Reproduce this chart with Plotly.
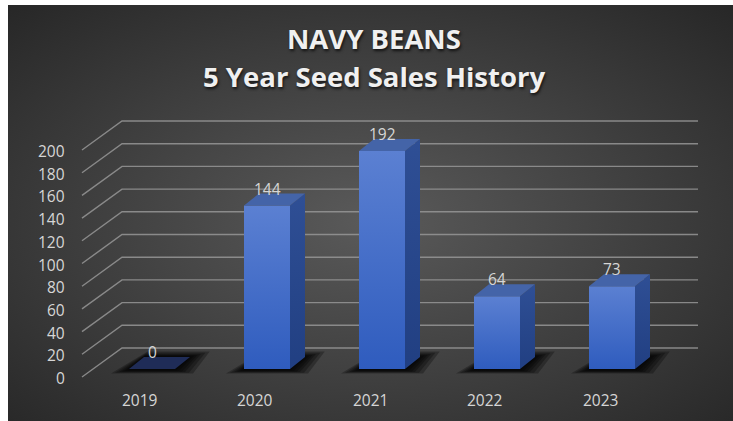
import base64
import plotly.graph_objects as go

# ---------------- data ----------------
years = ["2019", "2020", "2021", "2022", "2023"]
sales = [0, 144, 192, 64, 73]
y_ticks = [0, 20, 40, 60, 80, 100, 120, 140, 160, 180, 200]
title_line1 = "NAVY BEANS"
title_line2 = "5 Year Seed Sales History"

# ---------------- geometry (pixel -> data conversions) ----------------
W, H = 733, 421
PX_X = 115.0          # pixels per category
PX_Y = 1.135          # pixels per unit of value
X0_PX = 152.0         # pixel x of first category centre
Y0_PX = 369.0         # pixel y of bar base

def ux(px):  # pixel width -> x units
    return px / PX_X

def uy(px):  # pixel height -> y units
    return px / PX_Y

x_range = [(0 - X0_PX) / PX_X, (W - X0_PX) / PX_X]
y_range = [(Y0_PX - H) / PX_Y, (Y0_PX - 0) / PX_Y]

half_w = ux(23)
dep_x, dep_y = ux(15), uy(12)
back_dx_left, back_dx_right = ux(122 - X0_PX), ux(698 - X0_PX)
back_dy = uy(Y0_PX - 348)
front_dx = ux(82 - X0_PX)
front_dy = -uy(377 - Y0_PX)

FONT = "Open Sans"
TXT = "#d6d6d6"

fig = go.Figure()

# ---------------- wall grid lines ----------------
for v in y_ticks:
    fig.add_trace(go.Scatter(
        x=[front_dx, back_dx_left, back_dx_right],
        y=[v + front_dy, v + back_dy, v + back_dy],
        mode="lines", line=dict(color="rgba(150,150,150,0.85)", width=1.4),
        hoverinfo="skip", showlegend=False))

# ---------------- shadows ----------------
for i, v in enumerate(sales):
    L, R = i - half_w, i + half_w
    for e in [18, 14, 10, 7, 4, 1]:
        ex = ux(e)
        fig.add_trace(go.Scatter(
            x=[L - ex, R + ex, R + dep_x + ex * 1.1, L + dep_x + ex * 0.2, L - ex],
            y=[-uy(1 + e * 0.2), -uy(1 + e * 0.2), dep_y + uy(e * 0.3),
               dep_y + uy(e * 0.3), -uy(1 + e * 0.2)],
            mode="lines", line=dict(width=0), fill="toself",
            fillcolor="rgba(0,0,0,0.28)", hoverinfo="skip", showlegend=False))

# ---------------- 3D bars ----------------
for i, v in enumerate(sales):
    L, R = i - half_w, i + half_w
    if v > 0:
        # front face
        fig.add_trace(go.Scatter(
            x=[L, R, R, L, L], y=[0, 0, v, v, 0],
            mode="lines", line=dict(width=0), fill="toself",
            fillgradient=dict(type="vertical",
                              colorscale=[[0, "#2f5cbe"], [1, "#5b80d2"]]),
            hoverinfo="skip", showlegend=False))
        # side face
        fig.add_trace(go.Scatter(
            x=[R, R + dep_x, R + dep_x, R, R], y=[0, dep_y, v + dep_y, v, 0],
            mode="lines", line=dict(width=0), fill="toself",
            fillgradient=dict(type="vertical",
                              colorscale=[[0, "#213f82"], [1, "#2f4f95"]]),
            hoverinfo="skip", showlegend=False))
        top_col = "#4464a8"
    else:
        top_col = "#1f2c57"
    # top face
    fig.add_trace(go.Scatter(
        x=[L, R, R + dep_x, L + dep_x, L], y=[v, v, v + dep_y, v + dep_y, v],
        mode="lines", line=dict(width=0), fill="toself", fillcolor=top_col,
        hoverinfo="skip", showlegend=False))

# ---------------- text ----------------
ann = []
for i, v in enumerate(sales):
    ann.append(dict(x=i, y=v + dep_y + uy(5), text=str(v), showarrow=False,
                    xanchor="center", yanchor="middle",
                    font=dict(family=FONT, size=15.5, color=TXT)))
    ann.append(dict(x=i + ux(-12), y=-uy(31), text=years[i], showarrow=False,
                    xanchor="center", yanchor="middle",
                    font=dict(family=FONT, size=15.5, color=TXT)))
for v in y_ticks:
    ann.append(dict(x=ux(67 - X0_PX), y=v + front_dy - uy(1), text=str(v),
                    showarrow=False, xanchor="right", yanchor="middle",
                    font=dict(family=FONT, size=15.5, color=TXT)))

ann.append(dict(xref="paper", yref="paper", x=(374) / W, y=1 - 39 / H,
                text="<b>" + title_line1 + "</b>", showarrow=False,
                xanchor="center", yanchor="middle",
                font=dict(family=FONT, size=27.5, color="#f0f0f0",
                          shadow="1px 2px 3px rgba(0,0,0,0.7)")))
ann.append(dict(xref="paper", yref="paper", x=(374) / W, y=1 - 77 / H,
                text="<b>" + title_line2 + "</b>", showarrow=False,
                xanchor="center", yanchor="middle",
                font=dict(family=FONT, size=27.5, color="#f0f0f0",
                          shadow="1px 2px 3px rgba(0,0,0,0.7)")))

# ---------------- background (radial gradient) ----------------
svg = (
    '<svg xmlns="http://www.w3.org/2000/svg" width="725" height="416">'
    '<defs><radialGradient id="g" cx="0.5" cy="0.52" r="0.72">'
    '<stop offset="0" stop-color="#5a5a5a"/>'
    '<stop offset="1" stop-color="#272727"/>'
    '</radialGradient></defs>'
    '<rect width="725" height="416" fill="url(#g)"/></svg>'
)
bg_src = "data:image/svg+xml;base64," + base64.b64encode(svg.encode()).decode()

fig.update_layout(
    width=W, height=H,
    margin=dict(l=0, r=0, t=0, b=0),
    paper_bgcolor="white",
    plot_bgcolor="rgba(0,0,0,0)",
    xaxis=dict(range=x_range, visible=False, fixedrange=True),
    yaxis=dict(range=y_range, visible=False, fixedrange=True),
    annotations=ann,
    images=[dict(source=bg_src, xref="paper", yref="paper",
                 x=8 / W, y=1 - 5 / H, sizex=725 / W, sizey=416 / H,
                 xanchor="left", yanchor="top", sizing="stretch",
                 layer="below")],
    showlegend=False,
)

fig.write_html("out.html")
